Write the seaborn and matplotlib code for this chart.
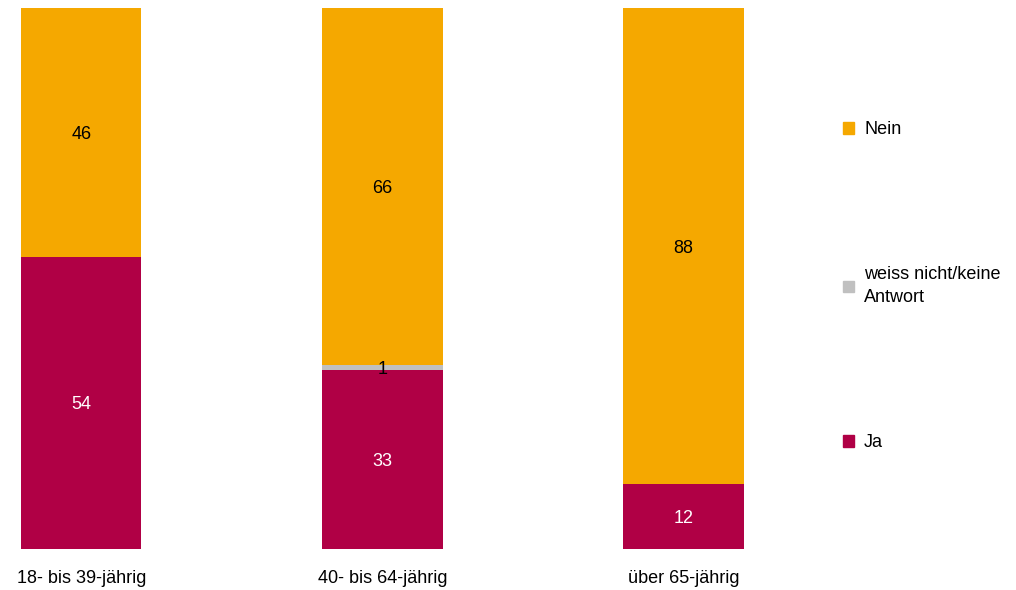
import pandas as pd
import numpy as np
import matplotlib
matplotlib.use('Agg')
import matplotlib.pyplot as plt
import seaborn as sns
from matplotlib.patches import Patch

sns.set_theme(style="white")
plt.rcParams['font.family'] = ['Liberation Sans', 'DejaVu Sans']

groups = ["18- bis 39-jährig", "40- bis 64-jährig", "über 65-jährig"]
ja = [54, 33, 12]
weiss = [0, 1, 0]
nein = [46, 66, 88]

series = ["Ja", "weiss nicht/keine\nAntwort", "Nein"]
colors = {"Ja": "#B00045", "weiss nicht/keine\nAntwort": "#C0C0C0", "Nein": "#F5A800"}
text_colors = {"Ja": "white", "weiss nicht/keine\nAntwort": "black", "Nein": "black"}

df = pd.DataFrame({"group": groups, "Ja": ja, "weiss nicht/keine\nAntwort": weiss, "Nein": nein})

fig = plt.figure(figsize=(10.16, 5.90), dpi=100)
ax = fig.add_axes([21 / 1016, 1 - 549 / 590, (744 - 21) / 1016, (549 - 8) / 590])

bottom = np.zeros(len(groups))
for s in series:
    sns.barplot(data=df, x="group", y=s, color=colors[s], width=0.4,
                bottom=bottom, ax=ax, saturation=1, linewidth=0)
    for i, v in enumerate(df[s]):
        if v > 0:
            ax.text(i, bottom[i] + v / 2, str(v), ha="center", va="center_baseline",
                    color=text_colors[s], fontsize=13)
    bottom = bottom + df[s].values

ax.set_xlim(-0.2, 2.2)
ax.set_ylim(0, 100)
ax.set_xlabel("")
ax.set_ylabel("")
ax.set_yticks([])
ax.tick_params(axis="x", length=0, labelsize=13, pad=15, labelcolor="black")
sns.despine(ax=ax, left=True, bottom=True)

handles = [Patch(color=colors[s], label=s) for s in reversed(series)]
leg = fig.legend(handles=handles, loc="upper left", bbox_to_anchor=(827 / 1016, 1 - 105 / 590),
                 frameon=False, fontsize=13, handlelength=0.6, handleheight=0.6,
                 handletextpad=0.55, labelspacing=7.1)
for t in leg.get_texts():
    t.set_color("black")
    t.set_linespacing(1.45)

fig.savefig("out.png", dpi=100)
